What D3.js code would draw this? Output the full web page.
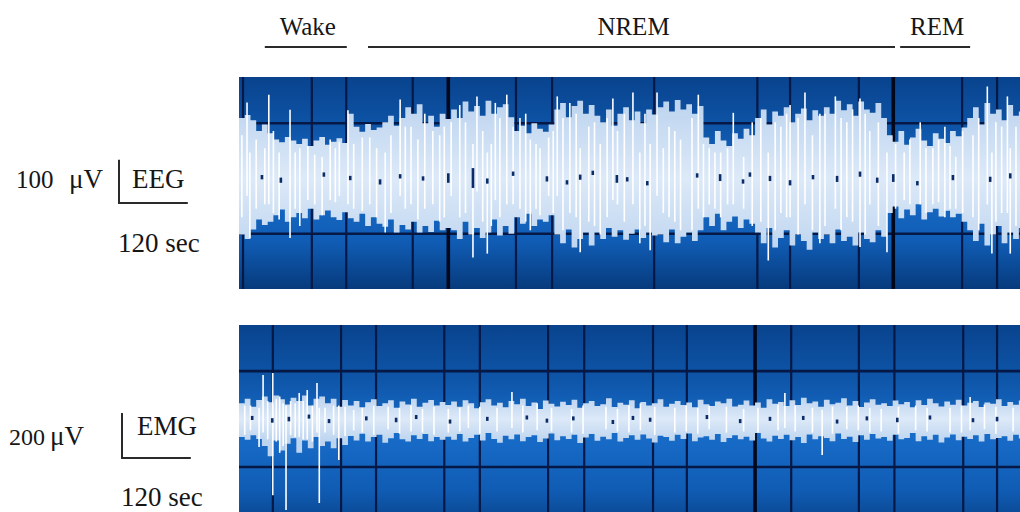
<!DOCTYPE html>
<html>
<head>
<meta charset="utf-8">
<script src="https://cdn.jsdelivr.net/npm/d3@7"></script>
<style>
  body { margin: 0; background: #fff; }
  svg { display: block; }
  text { font-family: "Liberation Serif", "Times New Roman", serif; fill: #161616; }
</style>
</head>
<body>
<svg id="chart" width="1020" height="512"></svg>
<script>
// ---- recording data (time in seconds, amplitude in microvolts) ----
const sampleStep = 10; // seconds covered by each envelope sample

// EEG envelope: upper / lower extent of the trace per sample
const eegHigh = [140,147,135, 110,125, 105, 90,84,96,88, 80,92,75,88,96,78,85,93,82, 150,
  120,108,126,112,118, 130,145,122,140, 165,150,172, 128,145,120,150,138,
  160,140,178,155,168,145,180,150,165,172,142, 110,122,105,128,115,108,125,
  160,175,142,168,180,150,170, 145,130,160,122,150,165,135,155,128,160,148,
  165,178,155,182,160,172,150,168, 95,80,110,88,75,105,92,115,100,
  140,160,125,155,145,165,130,150,162,135,158,145, 165,150,180,158,172,145,178,160,152,175,140,
  100,85,110,78,95,115,88,75,105,92,82,110,98,118, 140,165,125,175,150,160,135,170,145,155];
const eegLow = [-130,-140,-118, -95,-108, -100, -85,-72,-100,-90, -80,-92,-70,-95,-85,-74,-90,-96,-78, -92,
  -100,-82,-110,-90,-105, -112,-95,-125,-108, -118,-100,-125, -110,-124,-98,-120,-115,
  -120,-140,-100,-130,-115,-138,-125,-95,-132,-110,-128, -90,-105,-82,-110,-95,-100,-85,
  -130,-150,-118,-160,-140,-125,-155, -125,-140,-115,-135,-120,-142,-128,-118,-138,-125,-132,
  -130,-148,-118,-150,-135,-125,-145,-120, -90,-110,-82,-120,-100,-88,-115,-95,-105,
  -125,-150,-115,-160,-138,-120,-155,-130,-145,-165,-125,-140, -130,-150,-118,-145,-135,-155,-125,-140,-148,-120,-135,
  -80,-65,-92,-72,-85,-60,-95,-78,-70,-88,-75,-90,-82,-100, -120,-145,-105,-155,-130,-110,-150,-125,-140,-115];

// EEG individual excursions: [time, high, low]
const eegSpikes = [[5,100,-90],[14,176,-40],[19,60,-138],[30,90,-70],[45,70,-60],[52,194,-60],[60,110,-80],
  [70,60,-95],[89,159,-138],[98,60,-70],[106,70,-110],[120,75,-50],[132,55,-60],[145,50,-85],[159,90,-50],
  [168,70,-55],[175,85,-40],[190,158,-60],[200,80,-70],[215,95,-75],[228,95,-60],[240,70,-90],[255,60,-125],
  [265,100,-80],[281,183,-40],[290,120,-70],[300,120,-60],[312,90,-95],[324,150,-70],[338,110,-60],
  [350,100,-100],[358,120,-90],[370,130,-40],[385,170,-90],[395,130,-80],[408,80,-183],[415,190,-30],
  [425,110,-100],[433,60,-174],[440,80,-110],[447,175,-50],[455,140,-90],[467,194,-60],[478,120,-60],
  [490,140,-70],[500,150,-100],[508,90,-120],[518,80,-70],[525,70,-85],[540,95,-40],[548,110,-80],
  [555,190,-40],[565,140,-120],[577,175,-80],[588,150,-90],[595,70,-171],[610,120,-100],[620,130,-110],
  [630,80,-130],[642,140,-90],[652,185,-50],[660,110,-60],[672,150,-100],[687,199,-60],[699,60,-150],
  [708,150,-110],[717,80,-166],[729,199,-40],[740,70,-80],[750,120,-90],[760,110,-100],[770,90,-120],
  [790,140,-120],[801,194,-70],[810,80,-90],[820,70,-60],[830,60,-70],[840,60,-90],[852,70,-60],
  [862,152,-60],[880,50,-70],[895,130,-110],[910,140,-100],[923,60,-190],[935,130,-120],[945,120,-80],
  [955,150,-90],[961,170,-90],[975,140,-130],[987,199,-60],[1000,100,-120],[1013,150,-150],[1022,150,-110],
  [1040,190,-70],[1050,140,-120],[1060,130,-90],[1070,160,-100],[1083,185,-159],[1092,150,-130],
  [1100,110,-60],[1115,130,-110],[1130,60,-171],[1145,80,-70],[1160,60,-50],[1170,90,-60],[1188,130,-60],
  [1198,70,-80],[1210,70,-60],[1220,90,-55],[1231,120,-90],[1240,75,-70],[1250,50,-70],[1262,110,-80],
  [1280,100,-90],[1290,140,-120],[1305,213,-60],[1313,60,-174],[1320,130,-100],[1330,120,-80],
  [1340,190,-80],[1345,70,-174],[1355,120,-110]];

// EEG dropouts near the baseline: [time, high, low]
const eegGaps = [[40,8,-2],[73,2,-10],[148,14,4],[194,6,-4],[246,-2,-14],[281,10,0],[321,5,-5],[365,12,-10],
  [408,24,-22],[433,0,-12],[478,16,6],[537,5,-7],[572,-4,-14],[595,9,-3],[617,18,8],[659,8,-10],[677,3,-7],
  [712,-6,-16],[799,12,2],[839,10,-6],[879,-2,-12],[891,14,4],[926,6,-6],[961,-4,-16],[1001,8,-2],
  [1043,6,-8],[1083,16,4],[1113,2,-10],[1141,10,-8],[1183,-6,-16],[1245,8,-4],[1310,4,-8],[1345,12,0]];

// EMG envelope
const emgHigh = [70,90,55,85, 100,75,105,88, 65,95,80,105,60,90,100, 70,90,55,85,
  60,80,52,75,88,58,70,84,50,78,65,90,55,72,85,60,76,
  62,78,55,84,70,48,75,88,60,72,52,80,66,90,58,74,45,82,68,56,
  77,62,86,50,70,80,58,66,92,54,72,64,84,48,76,60,70,88,55,68,
  80,62,74,52,86,66,58,78,70,90,56,64,82,60,74,50,88,68,76,58,
  84,62,95,70,78,55,86,66,72,92,60,80,54,74,88,64,70,58,82,66,
  76,52,84,62,90,70,56,78,64,86,60,72,80,54,74,68,88,58,76,64,82];
const emgLow = [-80,-92,-72,-88, -120,-165,-95,-140, -110,-85,-150,-95,-130,-80,-120, -100,-130,-85,-115,
  -75,-95,-65,-100,-80,-70,-105,-85,-62,-90,-100,-72,-88,-66,-98,-80,-92,
  -78,-92,-66,-100,-84,-70,-95,-62,-88,-105,-74,-90,-68,-98,-80,-72,-102,-86,-64,-94,
  -76,-88,-70,-106,-82,-66,-96,-78,-90,-62,-100,-84,-72,-92,-68,-86,-104,-74,-80,-96,
  -70,-88,-64,-98,-82,-76,-92,-66,-102,-84,-72,-90,-78,-95,-62,-86,-100,-74,-88,-70,
  -94,-80,-106,-68,-90,-76,-84,-98,-64,-88,-78,-102,-72,-92,-66,-86,-80,-96,-70,-90,
  -84,-62,-98,-76,-92,-70,-104,-82,-68,-94,-78,-88,-72,-100,-66,-90,-84,-76,-96,-70,-86];

const emgSpikes = [[10,60,-70],[20,60,-50],[35,50,-124],[42,196,-60],[50,80,-90],[59,205,-338],[65,90,-100],
  [71,100,-150],[77,70,-120],[82,60,-404],[90,80,-70],[98,70,-80],[105,116,-80],[112,80,-90],[119,129,-90],
  [128,60,-100],[136,160,-60],[140,50,-373],[150,50,-60],[165,60,-70],[174,60,-182],[185,55,-75],
  [200,40,-50],[215,50,-60],[235,60,-70],[260,55,-45],[280,50,-65],[300,60,-55],[320,45,-60],[340,55,-70],
  [365,45,-60],[385,50,-55],[400,60,-40],[420,55,-65],[450,50,-55],[476,120,-40],[495,60,-60],[520,70,-50],
  [545,50,-55],[580,45,-60],[600,60,-65],[640,55,-45],[660,45,-55],[680,60,-60],[700,70,-50],[725,55,-70],
  [760,50,-60],[780,60,-55],[800,50,-65],[820,60,-45],[850,55,-60],[880,45,-55],[905,50,-60],[940,65,-50],
  [952,116,-40],[970,60,-55],[1000,50,-60],[1017,40,-160],[1035,55,-65],[1060,55,-45],[1080,60,-50],
  [1100,50,-60],[1120,45,-55],[1150,55,-65],[1180,60,-50],[1200,50,-55],[1240,50,-60],[1260,60,-60],
  [1275,98,-50],[1300,65,-45],[1320,55,-65],[1350,50,-55]];

const emgGaps = [[23,14,-4],[58,4,-16],[87,10,-10],[122,20,2],[157,0,-18],[222,12,-6],[274,6,-14],
  [309,18,0],[368,-2,-20],[433,10,-8],[502,16,-2],[537,2,-16],[583,12,-6],[652,-4,-22],[687,14,-4],
  [717,6,-12],[816,18,0],[874,0,-18],[926,10,-8],[984,14,-4],[1043,-2,-20],[1095,12,-6],[1148,6,-14],
  [1205,16,-2],[1280,4,-14],[1322,10,-10]];

// grid: vertical lines (seconds) and horizontal reference levels (microvolts)
const eegGridTimes = [7,127,187,303,365,483,546,724,904,961,1081,1141,1261,1322];
const eegGridThick = [365,1141];
const eegGridLevels = [-128,128];
const emgGridTimes = [59,178,239,358,420,539,602,722,781,900,963,1081,1143,1263,1322];
const emgGridThick = [900];
const emgGridLevels = [-213,213];

// sleep stages along the top (seconds)
const stageNames = ["Wake","NREM","REM"];
const stageStart = [45,225,1153];
const stageEnd = [188,1144,1275];

// ---- drawing ----
const svg = d3.select("#chart");
const x = d3.scaleLinear().domain([0,1362]).range([239,1020]);

const defs = svg.append("defs");
const bg = defs.append("linearGradient").attr("id","panelBg").attr("x1",0).attr("y1",0).attr("x2",0).attr("y2",1);
[[0,"#09438e"],[0.25,"#0e55a8"],[0.5,"#186dca"],[0.78,"#105cb4"],[1,"#073a7c"]]
  .forEach(([o,c]) => bg.append("stop").attr("offset",o).attr("stop-color",c));

function drawPanel(cfg) {
  const y = d3.scaleLinear().domain(cfg.yDomain).range([cfg.top + cfg.height, cfg.top]);
  const clipId = "clip-" + cfg.name;
  defs.append("clipPath").attr("id", clipId).append("rect")
    .attr("x", x.range()[0]).attr("y", cfg.top)
    .attr("width", x.range()[1] - x.range()[0]).attr("height", cfg.height);

  // band shading: pale blue, a little lighter along the baseline
  const bandGrad = defs.append("linearGradient").attr("id","band-" + cfg.name)
    .attr("gradientUnits","userSpaceOnUse").attr("x1",0).attr("x2",0)
    .attr("y1", y(cfg.bandSpan)).attr("y2", y(-cfg.bandSpan));
  [[0,"#bdd4ef"],[0.5,"#dce9f8"],[1,"#bdd4ef"]]
    .forEach(([o,c]) => bandGrad.append("stop").attr("offset",o).attr("stop-color",c));

  const g = svg.append("g").attr("clip-path", `url(#${clipId})`);
  g.append("rect").attr("x", x.range()[0]).attr("y", cfg.top)
    .attr("width", x.range()[1] - x.range()[0]).attr("height", cfg.height)
    .attr("fill", "url(#panelBg)");

  g.selectAll("line.h").data(cfg.levels).join("line")
    .attr("x1", x.range()[0]).attr("x2", x.range()[1])
    .attr("y1", d => y(d)).attr("y2", d => y(d))
    .attr("stroke", "#061845").attr("stroke-width", 2.6);
  g.selectAll("line.v").data(cfg.gridTimes).join("line")
    .attr("x1", d => x(d)).attr("x2", d => x(d))
    .attr("y1", cfg.top).attr("y2", cfg.top + cfg.height)
    .attr("stroke", d => cfg.gridThick.includes(d) ? "#02081c" : "#061845")
    .attr("stroke-width", d => cfg.gridThick.includes(d) ? 3.6 : 2.2);

  const pts = cfg.high.map((h, i) => ({ t: i * sampleStep, hi: h, lo: cfg.low[i] }));
  const last = pts[pts.length - 1];
  pts.push({ t: pts.length * sampleStep, hi: last.hi, lo: last.lo });
  const area = d3.area().curve(d3.curveStepAfter)
    .x(d => x(d.t)).y0(d => y(d.lo)).y1(d => y(d.hi));
  g.append("path").datum(pts).attr("d", area).attr("fill", `url(#band-${cfg.name})`);

  g.selectAll("line.spike").data(cfg.spikes).join("line")
    .attr("x1", d => x(d[0])).attr("x2", d => x(d[0]))
    .attr("y1", d => y(d[1])).attr("y2", d => y(d[2]))
    .attr("stroke", "#ffffff").attr("stroke-width", 1.6);

  g.selectAll("rect.gap").data(cfg.gaps).join("rect")
    .attr("x", d => x(d[0]) - 1.3).attr("width", 2.6)
    .attr("y", d => y(d[1])).attr("height", d => y(d[2]) - y(d[1]))
    .attr("fill", "#0b2c66");

  return y;
}

const yEEG = drawPanel({ name: "eeg", top: 77, height: 212, yDomain: [-256, 235], bandSpan: 180,
  high: eegHigh, low: eegLow, spikes: eegSpikes, gaps: eegGaps,
  gridTimes: eegGridTimes, gridThick: eegGridThick, levels: eegGridLevels });
const yEMG = drawPanel({ name: "emg", top: 325, height: 212, yDomain: [-524, 418], bandSpan: 100,
  high: emgHigh, low: emgLow, spikes: emgSpikes, gaps: emgGaps,
  gridTimes: emgGridTimes, gridThick: emgGridThick, levels: emgGridLevels });

// stage bars and labels
const stages = stageNames.map((n, i) => ({ name: n, s: stageStart[i], e: stageEnd[i] }));
svg.selectAll("line.stage").data(stages).join("line")
  .attr("x1", d => x(d.s)).attr("x2", d => x(d.e)).attr("y1", 47).attr("y2", 47)
  .attr("stroke", "#2a2a2a").attr("stroke-width", 2);
svg.selectAll("text.stage").data(stages).join("text")
  .attr("x", d => (x(d.s) + x(d.e)) / 2 + 2).attr("y", 35)
  .attr("text-anchor", "middle").attr("font-size", 25).text(d => d.name);

// calibration bars: amplitude vertical, time horizontal
function calibration(y, ox, oy, amp, secs, ampLabel, pos) {
  const dy = y(0) - y(amp);
  const dx = x(secs) - x(0);
  svg.append("path").attr("d", `M${ox},${oy - dy}V${oy}H${ox + dx}`)
    .attr("fill", "none").attr("stroke", "#2a2a2a").attr("stroke-width", 2);
  svg.append("text").attr("x", pos.numX).attr("y", pos.ampY).attr("font-size", pos.numSize).text(ampLabel);
  svg.append("text").attr("x", pos.unitX).attr("y", pos.ampY).attr("font-size", 27).text("μV");
  svg.append("text").attr("x", pos.nameX).attr("y", pos.nameY).attr("font-size", 27).text(pos.name);
  svg.append("text").attr("x", ox - 1).attr("y", pos.secY).attr("font-size", 27).text(secs + " sec");
}
calibration(yEEG, 119, 203, 100, 120, "100",
  { numX: 16, unitX: 69, ampY: 188, numSize: 25, name: "EEG", nameX: 132, nameY: 188, secY: 252 });
calibration(yEMG, 122, 458, 200, 120, "200",
  { numX: 9, unitX: 50, ampY: 445, numSize: 24, name: "EMG", nameX: 137, nameY: 435, secY: 506 });
</script>
</body>
</html>
